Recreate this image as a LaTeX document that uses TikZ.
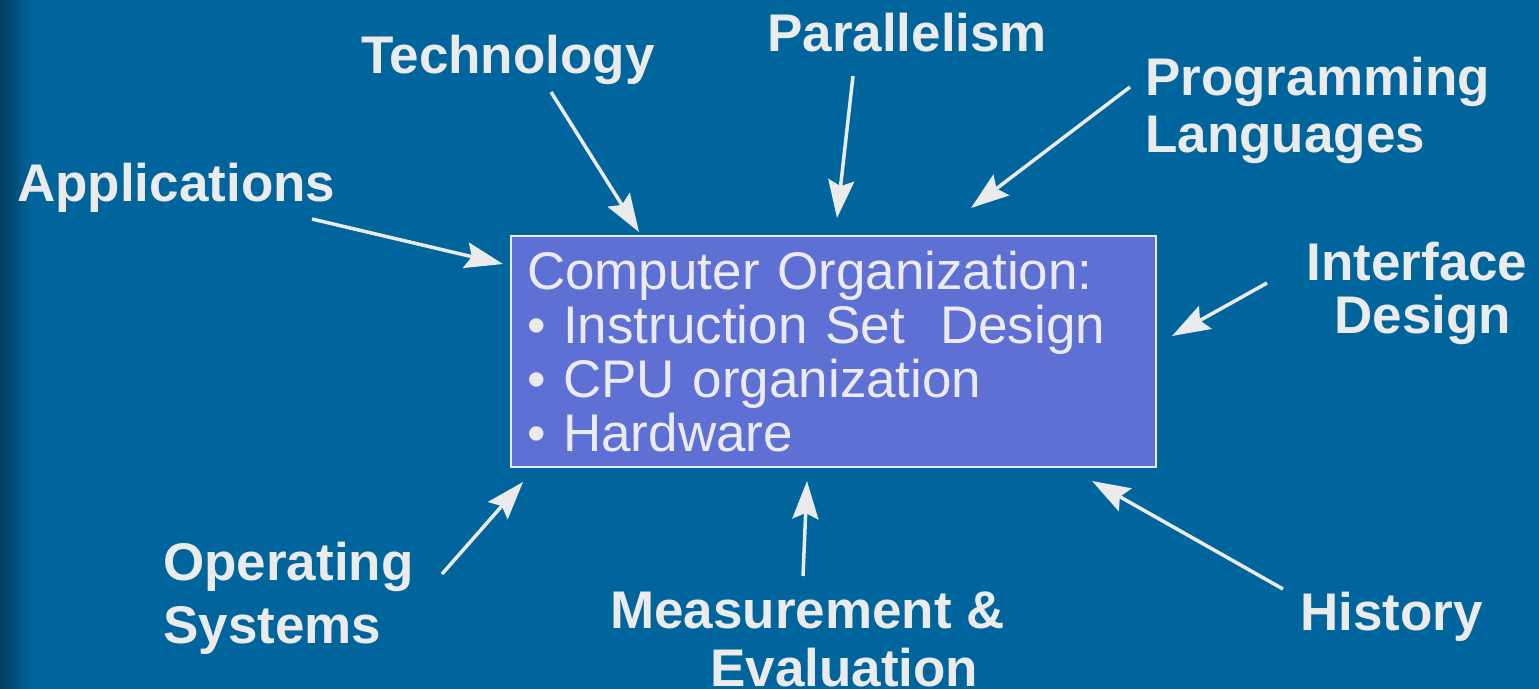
\documentclass[tikz,border=0pt]{standalone}
\usepackage{fontspec}
\setmainfont{Liberation Sans}
\usetikzlibrary{arrows.meta,positioning}
\definecolor{slideblue}{HTML}{00659C}
\definecolor{slidedark}{HTML}{003C5B}
\definecolor{boxblue}{HTML}{5F70D5}
\definecolor{inkwhite}{HTML}{EBEBEB}

\begin{document}
\begin{tikzpicture}[x=1pt,y=-1pt,>={Stealth[length=38pt,width=26pt,inset=6pt]},
  topic/.style={text=inkwhite,inner sep=0pt,anchor=north west,align=left,
    font=\fontsize{53}{#1}\selectfont\bfseries},
  topic/.default=57,
  org box/.style={rectangle,fill=boxblue,draw=inkwhite,line width=1.5pt,
    text=inkwhite,minimum width=645pt,minimum height=231pt,text width=613pt,
    inner xsep=16pt,inner ysep=0pt,align=left,font=\fontsize{53}{54}\selectfont}]

  % background
  \useasboundingbox (0,0) rectangle (1539,688);
  \fill[slideblue] (-2,-2) rectangle (1541,690);
  \shade[left color=slidedark,right color=slideblue] (-2,-2) rectangle (32,690);

  \node[org box] (org) at (833.5,351.5)
    {Computer Organization:\\
     \textbullet\ Instruction Set\ \ Design\\
     \textbullet\ CPU organization\\
     \textbullet\ Hardware};

  \node[topic] (apps) at (17,163) {Applications};
  \node[topic] (tech) at (361,35) {Technology};
  \node[topic] (par) at (767,13) {Parallelism};
  \node[topic] (prog) at (1145,57) {Programming\\Languages};
  \node[topic=53,anchor=north,align=center] (intf) at (1417,242) {Interface\\\hspace*{12pt}Design};
  \node[topic=63] (os) at (163,542) {Operating\\Systems};
  \node[topic=58] (meas) at (610,592) {Measurement \&\\\hspace*{100pt}Evaluation};
  \node[topic] (hist) at (1300,592) {History};

  % arrow ends
  \coordinate (appsS) at (312,219);  \coordinate (appsE) at (503,264);
  \coordinate (techS) at (551,92);   \coordinate (techE) at (639,232);
  \coordinate (parS) at (853,76);    \coordinate (parE) at (837,218);
  \coordinate (progS) at (1130,87);  \coordinate (progE) at (971,208);
  \coordinate (intfS) at (1267,283); \coordinate (intfE) at (1172,336);
  \coordinate (osS) at (442,574);    \coordinate (osE) at (523,482);
  \coordinate (measS) at (803,576);  \coordinate (measE) at (807,481);
  \coordinate (histS) at (1283,589); \coordinate (histE) at (1092,481);

  \path[->,color=inkwhite,line width=3.5pt]
    (appsS) edge (appsE)
    (techS) edge (techE)
    (parS)  edge (parE)
    (progS) edge (progE)
    (intfS) edge (intfE)
    (osS)   edge (osE)
    (measS) edge (measE)
    (histS) edge (histE);

\end{tikzpicture}
\end{document}
